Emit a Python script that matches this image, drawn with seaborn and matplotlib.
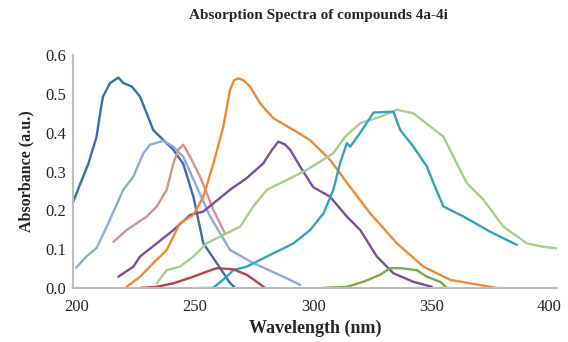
# Absorption spectra of compounds 4a-4i
import pandas as pd
import seaborn as sns
import matplotlib.pyplot as plt

# datos (longitud de onda en nm, absorbancia en u.a.)
wl_4a = [198.2, 201.5, 204.8, 208.3, 209.8, 211, 214, 217.5, 219.6, 223.2, 226.7, 229.5, 232.3, 236.6, 240.8, 245, 249.3, 253.5, 259.2, 264.8, 267]
abs_4a = [0.219, 0.27, 0.32, 0.39, 0.45, 0.493, 0.528, 0.542, 0.528, 0.519, 0.493, 0.45, 0.407, 0.381, 0.356, 0.32, 0.235, 0.115, 0.064, 0.013, 0.0]

wl_4b = [199.6, 204, 208.3, 212.6, 219.6, 223.9, 228.1, 230.9, 236.6, 240.8, 245, 250.7, 256.4, 264.8, 274.7, 288.8, 294.5]
abs_4b = [0.052, 0.081, 0.103, 0.158, 0.253, 0.287, 0.347, 0.369, 0.379, 0.364, 0.338, 0.261, 0.184, 0.098, 0.064, 0.025, 0.008]

wl_4c = [215.4, 221, 229.5, 233.8, 238, 240.8, 242.9, 245, 247.9, 252.1, 257.8, 262.7]
abs_4c = [0.119, 0.149, 0.184, 0.21, 0.253, 0.321, 0.356, 0.369, 0.338, 0.287, 0.201, 0.14]

wl_4d = [217.5, 223.9, 226.7, 233.8, 240.8, 247.9, 253.5, 257.8, 264.8, 271.9, 278.9, 282.5, 285.3, 288, 290.3, 294.5, 300, 307.2, 314.3, 320, 327, 334, 342.4, 350.3]
abs_4d = [0.029, 0.055, 0.081, 0.115, 0.149, 0.188, 0.197, 0.218, 0.253, 0.283, 0.321, 0.355, 0.377, 0.37, 0.356, 0.313, 0.26, 0.235, 0.184, 0.149, 0.081, 0.038, 0.016, 0.003]

wl_4e = [221, 226.7, 232.3, 238, 243.6, 249.3, 253.5, 257.8, 262, 264.8, 266.5, 268.4, 270.5, 273.3, 277.5, 283.2, 291.7, 298.7, 307.2, 315.7, 324.2, 335.5, 346.7, 358, 377.8]
abs_4e = [0.003, 0.029, 0.064, 0.098, 0.167, 0.188, 0.235, 0.321, 0.416, 0.51, 0.535, 0.54, 0.535, 0.519, 0.476, 0.437, 0.407, 0.381, 0.33, 0.26, 0.192, 0.115, 0.055, 0.021, 0.0]

wl_4f = [233.8, 238, 243.6, 249.3, 254.9, 263.4, 269.1, 274.7, 280.4, 288.8, 297.3, 308.6, 313.6, 319.9, 328.4, 335.5, 342.5, 349.6, 355.2, 365.1, 372.2, 380.6, 390.5, 397.6, 403.3]
abs_4f = [0.012, 0.046, 0.055, 0.081, 0.115, 0.141, 0.158, 0.21, 0.253, 0.278, 0.304, 0.347, 0.39, 0.424, 0.441, 0.459, 0.45, 0.416, 0.39, 0.27, 0.227, 0.158, 0.115, 0.106, 0.102]

wl_4g = [251.4, 257.6, 263.4, 266.2, 271.9, 280.4, 288.8, 291.7, 298.7, 304.4, 308.6, 311.4, 314.3, 315.7, 319.9, 325.6, 334, 336.9, 342.5, 348.2, 351, 355.2, 363.7, 375, 386.3]
abs_4g = [0.0, 0.0, 0.029, 0.046, 0.055, 0.081, 0.106, 0.115, 0.149, 0.192, 0.253, 0.321, 0.373, 0.364, 0.399, 0.452, 0.454, 0.407, 0.364, 0.313, 0.27, 0.21, 0.184, 0.145, 0.111]

wl_4h = [226.7, 233.8, 240.8, 249.3, 254.9, 259.2, 266.2, 271.9, 276.1, 279.7]
abs_4h = [0.0, 0.003, 0.012, 0.029, 0.042, 0.051, 0.048, 0.034, 0.016, 0.0]

wl_4i = [303.7, 314.3, 321.3, 328.4, 332.6, 336.9, 343.9, 348.2, 353.8, 356.7]
abs_4i = [0.0, 0.003, 0.016, 0.034, 0.051, 0.051, 0.046, 0.029, 0.016, 0.0]

compuestos = ['4a', '4b', '4c', '4d', '4e', '4f', '4g', '4h', '4i']
wls = [wl_4a, wl_4b, wl_4c, wl_4d, wl_4e, wl_4f, wl_4g, wl_4h, wl_4i]
absorb = [abs_4a, abs_4b, abs_4c, abs_4d, abs_4e, abs_4f, abs_4g, abs_4h, abs_4i]
colores = ['#3d6cb0', '#8eaad8', '#d98f8f', '#7a4f9e', '#ef8a33',
           '#a9cd8c', '#35a2bc', '#b8433f', '#77ab46']

# pasamos todo a formato largo para seaborn
df = pd.concat([pd.DataFrame({'wl': w, 'A': a, 'comp': c})
                for w, a, c in zip(wls, absorb, compuestos)], ignore_index=True)

sns.set_style('white')
plt.rcParams['font.family'] = ['Liberation Serif', 'DejaVu Serif']

fig = plt.figure(figsize=(5.68, 3.42), dpi=100)
ax = fig.add_axes([0.1285, 0.158, 0.8525, 0.681])
sns.lineplot(data=df, x='wl', y='A', hue='comp', palette=colores, estimator=None,
             sort=False, linewidth=1.7, legend=False, ax=ax)
for ln in ax.lines:
    ln.set_solid_joinstyle('round')

ax.set_xlim(198.3, 403.4)
ax.set_ylim(0, 0.6)
ax.set_xticks([200, 250, 300, 350, 400])
ax.set_yticks([0.0, 0.1, 0.2, 0.3, 0.4, 0.5, 0.6])
ax.set_yticklabels(['0.0', '0.1', '0.2', '0.3', '0.4', '0.5', '0.6'])
ax.tick_params(length=0, labelsize=12)
ax.tick_params(axis='x', pad=8)
ax.tick_params(axis='y', pad=5)
for s in ['top', 'right']:
    ax.spines[s].set_visible(False)
for s in ['left', 'bottom']:
    ax.spines[s].set_color('#bdbdbd')
    ax.spines[s].set_linewidth(1.5)

ax.set_xlabel('Wavelength (nm)', fontsize=13, fontweight='bold', labelpad=3)
ax.set_ylabel('Absorbance (a.u.)', fontsize=11.5, fontweight='bold', labelpad=8)
fig.text(0.56, 0.955, 'Absorption Spectra of compounds 4a-4i', ha='center', va='center',
         fontsize=11, fontweight='bold')

plt.savefig('out.png', dpi=100)
plt.close()
